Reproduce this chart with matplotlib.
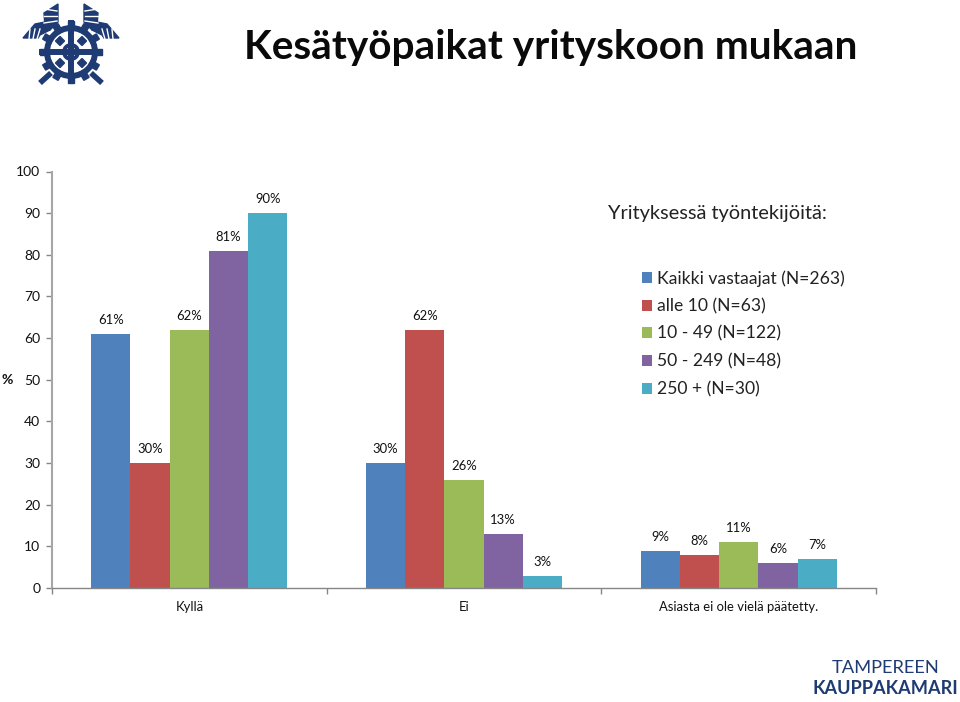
import numpy as np
import matplotlib
matplotlib.use("Agg")
import matplotlib.pyplot as plt
from matplotlib.patches import Circle, Polygon, Rectangle

plt.rcParams['font.family'] = ['Lato', 'DejaVu Sans']

categories = ["Kyllä", "Ei", "Asiasta ei ole vielä päätetty."]
series_names = ["Kaikki vastaajat (N=263)", "alle 10 (N=63)", "10 - 49 (N=122)",
                "50 - 249 (N=48)", "250 + (N=30)"]
kaikki = [61, 30, 9]
alle10 = [30, 62, 8]
v10_49 = [62, 26, 11]
v50_249 = [81, 13, 6]
v250 = [90, 3, 7]
colors = ["#4F81BD", "#C0504D", "#9BBB59", "#8064A2", "#4BACC6"]
yticks = [0, 10, 20, 30, 40, 50, 60, 70, 80, 90, 100]

W, H = 960, 702
fig = plt.figure(figsize=(9.6, 7.02), dpi=100)
ax = fig.add_axes([52 / W, 1 - 588 / H, 824 / W, 416.5 / H])

x = np.arange(3)
width = 1 / 7
for i, vals in enumerate([kaikki, alle10, v10_49, v50_249, v250]):
    b = ax.bar(x + (i - 2) * width, vals, width, color=colors[i], label=series_names[i])
    for rect, v in zip(b, vals):
        ax.annotate("{}%".format(v), (rect.get_x() + rect.get_width() / 2, v),
                    xytext=(0, 14), textcoords="offset pixels", ha="center", va="center",
                    fontsize=9.4, color="#111111")

ax.set_xlim(-0.5, 2.5)
ax.set_ylim(0, 100)
ax.set_yticks(yticks)
ax.set_xticks([-0.5, 0.5, 1.5, 2.5])
ax.set_xticklabels([])
ax.tick_params(axis="both", color="#868686", width=1, length=4, labelsize=10, labelcolor="#111111")
ax.tick_params(axis="y", pad=4.5)
for s in ["top", "right"]:
    ax.spines[s].set_visible(False)
ax.spines["left"].set_color("#A6A6A6")
ax.spines["left"].set_linewidth(1.5)
ax.spines["bottom"].set_color("#868686")
ax.spines["bottom"].set_linewidth(1.0)

# category names sit a bit lower than normal tick labels
for i, c in enumerate(categories):
    ax.annotate(c, (i, 0), xytext=(0, -19), textcoords="offset pixels", ha="center", va="center",
                fontsize=9.4, color="#111111")

fig.text(7 / W, 1 - 380 / H, "%", ha="center", va="center", fontsize=10, fontweight="bold", color="#111111")
fig.text(551 / W, 1 - 47 / H, "Kesätyöpaikat yrityskoon mukaan", ha="center", va="center",
         fontsize=29.2, fontweight="bold", color="#0a0a0a")
fig.text(608 / W, 1 - 214 / H, "Yrityksessä työntekijöitä:", ha="left", va="center",
         fontsize=14.4, color="#222222")

ax.legend(loc="upper left", bbox_to_anchor=(642 / W, 1 - 270 / H), bbox_transform=fig.transFigure,
          frameon=False, fontsize=12.6, handlelength=0.58, handleheight=0.58, handletextpad=0.3,
          labelspacing=0.66, borderpad=0, borderaxespad=0, labelcolor="#222222")

# logo and wordmark, drawn in pixel coordinates
ov = fig.add_axes([0, 0, 1, 1])
ov.set_xlim(0, W)
ov.set_ylim(H, 0)
ov.axis("off")
navy = "#1F3B73"
cx, cy = 71, 52
for a in np.arange(0, 360, 30):
    ov.add_patch(Rectangle((cx - 3, cy - 31), 6, 9, color=navy,
                           transform=matplotlib.transforms.Affine2D().rotate_deg_around(cx, cy, a) + ov.transData))
ov.add_patch(Circle((cx, cy), 24, fill=False, ec=navy, lw=4.3))
ov.plot([cx - 32, cx + 32], [cy, cy], color=navy, lw=4.3, solid_capstyle="butt")
ov.plot([cx, cx], [cy - 32, cy + 32], color=navy, lw=4.3, solid_capstyle="butt")
ov.add_patch(Circle((cx, cy), 9, fc=navy, ec="none"))
ov.add_patch(Circle((cx, cy), 5, fc="white", ec="none"))
for dx, dy in [(-11, -11), (11, -11), (-11, 11), (11, 11)]:
    ov.add_patch(Polygon([(cx + dx, cy + dy - 4.5), (cx + dx + 4.5, cy + dy), (cx + dx, cy + dy + 4.5),
                          (cx + dx - 4.5, cy + dy)], color=navy))
for sgn in [-1, 1]:
    ov.plot([cx + sgn * 20, cx + sgn * 31], [cy + 21, cy + 31], color=navy, lw=4, solid_capstyle="butt")
    # upper feathers
    ov.add_patch(Polygon([(cx + sgn * 13, 4), (cx + sgn * 13, 22), (cx + sgn * 21, 30),
                          (cx + sgn * 26, 27), (cx + sgn * 27, 13)], color=navy))
    # lower feathers
    ov.add_patch(Polygon([(cx + sgn * 48, 38), (cx + sgn * 36, 24), (cx + sgn * 26, 22),
                          (cx + sgn * 21, 30), (cx + sgn * 31, 35), (cx + sgn * 33, 38)], color=navy))
    for k in range(3):
        ov.plot([cx + sgn * 14, cx + sgn * 27], [11 + 5 * k, 6 + 7 * k + 3], color="white", lw=1)
        ov.plot([cx + sgn * (34 + 4 * k), cx + sgn * (31 + 5 * k)], [39, 29], color="white", lw=1)

fig.text(885.5 / W, 1 - 668 / H, "TAMPEREEN", ha="center", va="center", fontsize=13.2, color=navy)
fig.text(885.5 / W, 1 - 689 / H, "KAUPPAKAMARI", ha="center", va="center", fontsize=13.1,
         fontweight="bold", color=navy)

fig.savefig("out.png", dpi=100)
